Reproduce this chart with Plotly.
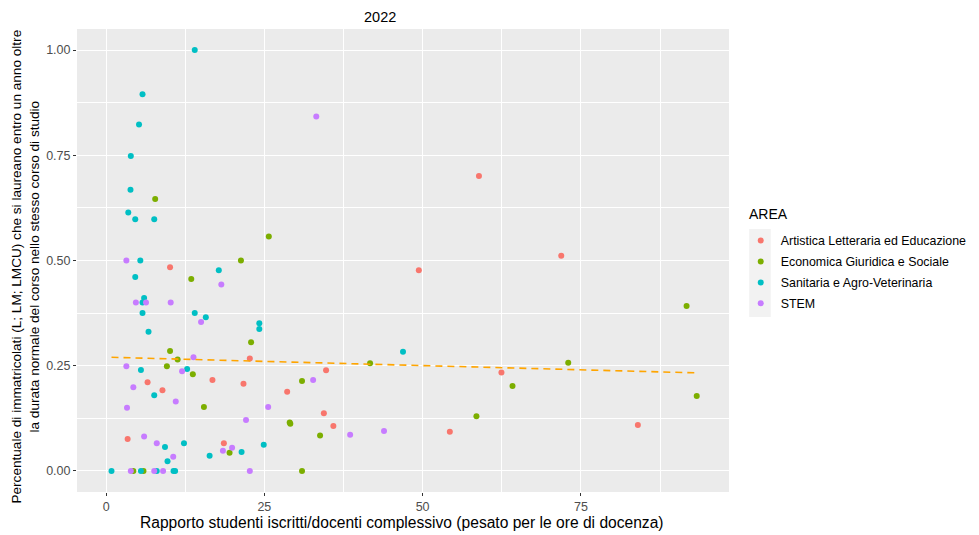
import plotly.graph_objects as go

# ---- data ----
areas = ["Artistica Letteraria ed Educazione", "Economica Giuridica e Sociale",
         "Sanitaria e Agro-Veterinaria", "STEM"]

art_x = [10.1, 6.55, 16.8, 8.9, 3.4, 18.6, 22.7, 34.75, 21.7, 28.6, 34.4, 35.9,
         49.4, 62.45, 54.3, 58.9, 71.9, 84.0]
art_y = [0.484, 0.211, 0.216, 0.192, 0.076, 0.066, 0.267, 0.239, 0.207, 0.188, 0.137, 0.107,
         0.477, 0.234, 0.093, 0.701, 0.511, 0.109]

eco_x = [7.75, 13.45, 10.1, 11.3, 9.6, 13.7, 15.45, 19.5, 4.3, 5.9, 25.7, 21.3,
         22.9, 30.95, 29.0, 29.1, 33.8, 30.95, 41.7, 64.2, 58.5, 91.7, 73.0, 93.3]
eco_y = [0.646, 0.456, 0.285, 0.265, 0.249, 0.230, 0.152, 0.043, 0.0, 0.0, 0.557, 0.500,
         0.306, 0.214, 0.115, 0.112, 0.084, 0.0, 0.256, 0.202, 0.130, 0.392, 0.257, 0.178]

san_x = [14.0, 5.75, 5.2, 3.9, 3.85, 3.5, 4.6, 7.6, 5.4, 17.8, 4.6, 6.0, 5.75, 5.75,
         14.0, 15.75, 6.7, 24.2, 24.2, 5.5, 12.8, 7.6, 9.3, 12.3, 9.7, 16.35, 21.4, 24.9,
         46.9, 0.85, 5.5, 8.0, 10.65, 10.9]
san_y = [1.0, 0.895, 0.823, 0.748, 0.668, 0.614, 0.598, 0.598, 0.500, 0.477, 0.461, 0.411,
         0.400, 0.375, 0.375, 0.365, 0.331, 0.351, 0.337, 0.240, 0.242, 0.180, 0.057, 0.066,
         0.023, 0.036, 0.045, 0.062, 0.283, 0.0, 0.0, 0.0, 0.0, 0.0]

stem_x = [3.2, 18.2, 4.7, 6.3, 10.2, 15.0, 3.2, 13.8, 12.0, 4.3, 11.0, 3.3, 6.0, 8.0,
          10.6, 18.45, 19.9, 22.1, 25.6, 32.7, 38.55, 43.9, 33.2, 3.9, 7.6, 9.0, 22.7]
stem_y = [0.500, 0.443, 0.400, 0.400, 0.400, 0.354, 0.249, 0.270, 0.237, 0.199, 0.165,
          0.150, 0.082, 0.066, 0.034, 0.048, 0.055, 0.121, 0.152, 0.216, 0.086, 0.095,
          0.842, 0.0, 0.0, 0.0, 0.0]

trend_x = [0.85, 93.3]
trend_y = [0.270, 0.233]

x_ticks = [0, 25, 50, 75]
y_ticks = [0.0, 0.25, 0.5, 0.75, 1.0]
y_tick_labels = ["0.00", "0.25", "0.50", "0.75", "1.00"]

colors = ["#F8766D", "#7CAE00", "#00BFC4", "#C77CFF"]
series = [(art_x, art_y), (eco_x, eco_y), (san_x, san_y), (stem_x, stem_y)]

FONT = "Liberation Sans, Arial, sans-serif"

fig = go.Figure()
for i, (name, (xs, ys)) in enumerate(zip(areas, series)):
    fig.add_trace(go.Scatter(
        x=xs, y=ys, mode="markers", name=name, legendgroup=name,
        marker=dict(color=colors[i], size=6, line=dict(width=0)),
    ))

fig.add_trace(go.Scatter(
    x=trend_x, y=trend_y, mode="lines", showlegend=False,
    line=dict(color="#FFA500", width=1.6, dash="7px,5px"),
))

# legend key background
fig.add_shape(type="rect", xref="paper", yref="paper",
              x0=1.031, x1=1.064, y0=0.378, y1=0.568,
              fillcolor="#F2F2F2", line=dict(width=0), layer="below")

# the page body has an 8px margin, so the figure is 8px smaller and margins shifted
fig.update_layout(
    width=971, height=527,
    margin=dict(l=69, r=250, t=21, b=43, autoexpand=False),
    paper_bgcolor="white", plot_bgcolor="#EBEBEB",
    font=dict(family=FONT, color="#000000"),
    showlegend=True,
    legend=dict(
        font=dict(size=12.4, color="#000000"),
        x=1.018, xanchor="left", y=0.5745, yanchor="top",
        bgcolor="rgba(0,0,0,0)", tracegroupgap=1.8,
    ),
    xaxis=dict(
        range=[-4.6, 98.4], tickmode="array", tickvals=x_ticks,
        ticktext=[str(t) for t in x_ticks],
        showgrid=True, gridcolor="white", gridwidth=1.1, zeroline=False,
        ticks="outside", ticklen=3, tickcolor="#333333", tickwidth=1,
        tickfont=dict(size=12.5, color="#4D4D4D"), showline=False, automargin=False,
        minor=dict(tickmode="array", tickvals=[12.5, 37.5, 62.5, 87.5],
                   showgrid=True, gridcolor="white", gridwidth=0.55, ticks=""),
    ),
    yaxis=dict(
        range=[-0.05, 1.05], tickmode="array", tickvals=y_ticks, ticktext=y_tick_labels,
        showgrid=True, gridcolor="white", gridwidth=1.1, zeroline=False,
        ticks="outside", ticklen=3, tickcolor="#333333", tickwidth=1,
        tickfont=dict(size=12.5, color="#4D4D4D"), showline=False, automargin=False,
        minor=dict(tickmode="array", tickvals=[0.125, 0.375, 0.625, 0.875],
                   showgrid=True, gridcolor="white", gridwidth=0.55, ticks=""),
    ),
    annotations=[
        dict(text="2022", xref="paper", yref="paper", x=0.465, y=1.0448,
             xanchor="center", yanchor="top", showarrow=False, borderpad=0,
             font=dict(size=14.5, color="#000000")),
        dict(text="AREA", xref="paper", yref="paper", x=1.0276, y=0.601,
             xanchor="left", yanchor="middle", showarrow=False,
             font=dict(size=14, color="#000000")),
        dict(text="Rapporto studenti iscritti/docenti complessivo (pesato per le ore di docenza)",
             xref="paper", yref="paper", x=0.499, y=-0.065,
             xanchor="center", yanchor="middle", showarrow=False,
             font=dict(size=15.6, color="#000000")),
        dict(text="Percentuale di immatricolati (L; LM; LMCU) che si laureano entro un anno oltre<br>"
                  "la durata normale del corso nello stesso corso di studio",
             xref="paper", yref="paper", x=-0.079, y=0.488, textangle=-90,
             xanchor="center", yanchor="middle", showarrow=False,
             font=dict(size=13.6, color="#000000")),
    ],
)

fig.write_html("out.html")
